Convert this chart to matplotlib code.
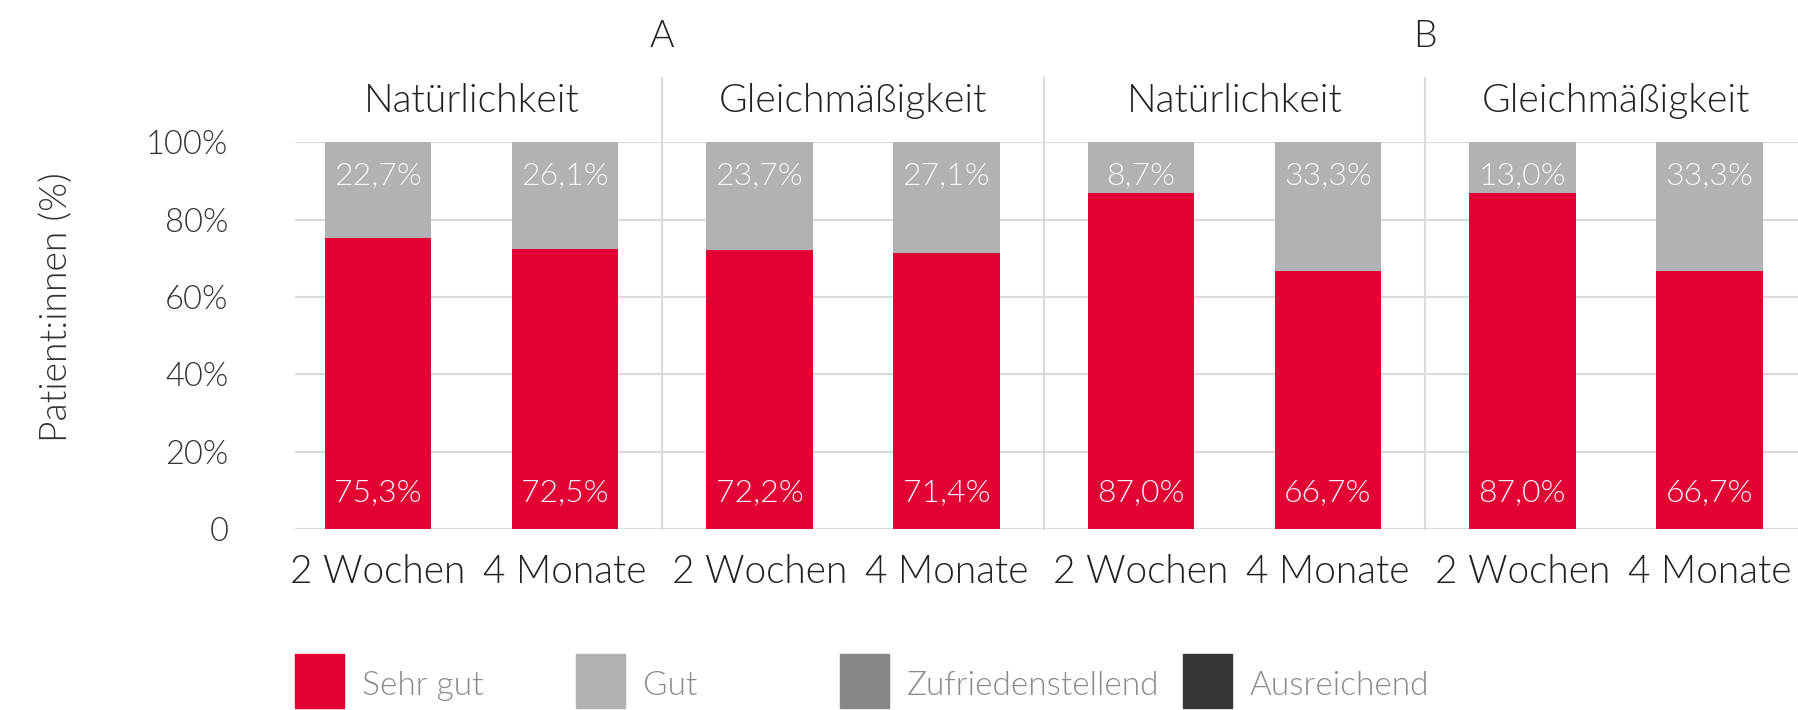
import matplotlib.pyplot as plt
from matplotlib.patches import Rectangle

# Patient ratings, share per answer category (%)
groups = ["A", "B"]
aspects = ["Natürlichkeit", "Gleichmäßigkeit", "Natürlichkeit", "Gleichmäßigkeit"]
timepoints = ["2 Wochen", "4 Monate", "2 Wochen", "4 Monate",
              "2 Wochen", "4 Monate", "2 Wochen", "4 Monate"]
sehr_gut = [75.3, 72.5, 72.2, 71.4, 87.0, 66.7, 87.0, 66.7]
gut = [22.7, 26.1, 23.7, 27.1, 8.7, 33.3, 13.0, 33.3]
yticks = [0, 20, 40, 60, 80, 100]
ytick_labels = ["0", "20%", "40%", "60%", "80%", "100%"]

categories = ["Sehr gut", "Gut", "Zufriedenstellend", "Ausreichend"]
colors = ["#e30034", "#b1b2b3", "#878787", "#363636"]

plt.rcParams["font.family"] = ["Lato", "DejaVu Sans"]
plt.rcParams["font.weight"] = 300
plt.rcParams["axes.labelweight"] = 300

W, H = 1799, 710
fig = plt.figure(figsize=(W / 100, H / 100), dpi=100)
ax = fig.add_axes([295 / W, (H - 529) / H, 1 - 295 / W, (529 - 142.3) / H])

# two bars per panel, slightly wider gap between panels
x = [i + 0.04 * (i // 2) for i in range(len(sehr_gut))]
bw = 0.57

ax.bar(x, sehr_gut, width=bw, color=colors[0], zorder=3)
rest = [100 - v for v in sehr_gut]
ax.bar(x, rest, width=bw, bottom=sehr_gut, color=colors[1], zorder=3)

for xi, s, g in zip(x, sehr_gut, gut):
    ax.text(xi, 9.3, f"{s:.1f}%".replace(".", ","), ha="center", va="center",
            color="#f6f6f6", fontsize=23, zorder=4)
    ax.text(xi, 91.5, f"{g:.1f}%".replace(".", ","), ha="center", va="center",
            color="#f6f6f6", fontsize=23, zorder=4)

ax.set_ylim(0, 100)
ax.set_xlim(-0.444, 7.6)
ax.set_yticks(yticks)
ax.set_yticklabels(ytick_labels)
ax.set_xticks(x)
ax.set_xticklabels(timepoints)
ax.tick_params(axis="y", length=0, pad=48, labelsize=23.5, labelcolor="#333333")
ax.tick_params(axis="x", length=0, pad=18, labelsize=28, labelcolor="#222222")
ax.grid(axis="y", color="#dcdcdc", linewidth=1.6, zorder=0)
for sp in ax.spines.values():
    sp.set_visible(False)

ax.set_ylabel("Patient:innen (%)", fontsize=26.8, color="#333333")
ax.yaxis.set_label_coords(-0.147, 0.574)

# panel separators, reaching up into the header
for k in range(1, 4):
    xd = (x[2 * k - 1] + x[2 * k]) / 2
    ax.plot([xd, xd], [0, 116.5], color="#dcdcdc", linewidth=1.6,
            clip_on=False, zorder=1)

for k, name in enumerate(aspects):
    xc = (x[2 * k] + x[2 * k + 1]) / 2
    ax.text(xc, 110.6, name, ha="center", va="center", fontsize=28.2,
            color="#222222")

for k, name in enumerate(groups):
    xd = (x[4 * k + 1] + x[4 * k + 2]) / 2
    ax.text(xd, 127.2, name, ha="center", va="center", fontsize=27,
            color="#222222")

# legend row at the bottom
legend_x = [295, 576, 840, 1183]
for lx, lab, col in zip(legend_x, categories, colors):
    fig.add_artist(Rectangle((lx / W, 2 / H), 49 / W, 54 / H,
                             transform=fig.transFigure, color=col))
    fig.text((lx + 67) / W, (H - 686) / H, lab, ha="left", va="center",
             fontsize=24, color="#8a8a8a")

fig.savefig("out.png", dpi=100)
